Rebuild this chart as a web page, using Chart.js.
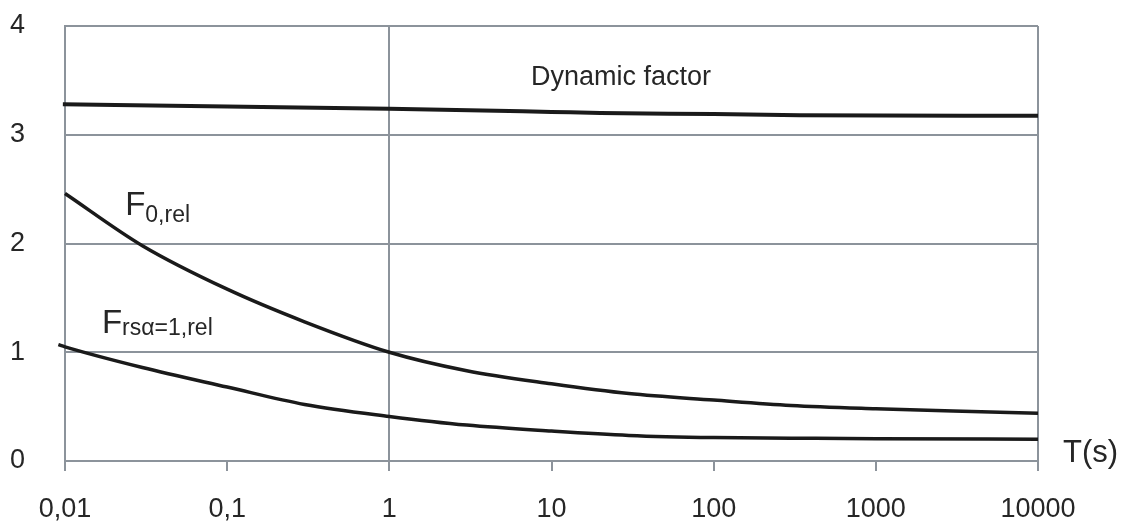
<!DOCTYPE html>
<html>
<head>
<meta charset="utf-8">
<script src="https://cdn.jsdelivr.net/npm/chart.js@4/dist/chart.umd.min.js"></script>
<style>
html,body{margin:0;padding:0;background:#fff;}
#wrap{width:1129px;height:522px;position:relative;}
</style>
</head>
<body>
<div id="wrap"><canvas id="c" width="1129" height="522"></canvas></div>
<script>
// ---- data ----
const xTicks = [0.01, 0.1, 1, 10, 100, 1000, 10000];
const xTickLabels = ["0,01", "0,1", "1", "10", "100", "1000", "10000"];
const yTicks = [0, 1, 2, 3, 4];

const dynT = [0.0097, 0.1, 1, 10, 20, 100, 340, 10000];
const dynV = [3.28, 3.26, 3.24, 3.21, 3.20, 3.19, 3.18, 3.175];

const f0T = [0.01, 0.03, 0.1, 0.3, 1, 3, 10, 30, 100, 300, 1000, 3000, 10000];
const f0V = [2.46, 1.98, 1.58, 1.28, 1.0, 0.83, 0.71, 0.62, 0.56, 0.51, 0.48, 0.46, 0.44];

const frsT = [0.0091, 0.01, 0.03, 0.1, 0.3, 1, 3, 10, 30, 100, 300, 1000, 10000];
const frsV = [1.07, 1.05, 0.86, 0.68, 0.52, 0.41, 0.33, 0.275, 0.235, 0.215, 0.21, 0.205, 0.20];

const FONT = "'Liberation Sans', Arial, sans-serif";
const GRID = '#8c939b';
const TXT = '#262626';

function pts(t, v) { return t.map((x, i) => ({x: x, y: v[i]})); }

const labelPlugin = {
  id: 'labels',
  afterDraw(chart) {
    const c = chart.ctx, xs = chart.scales.x, ys = chart.scales.y, a = chart.chartArea;
    c.save();
    c.fillStyle = TXT;
    c.textBaseline = 'alphabetic';
    // Dynamic factor
    c.font = '27px ' + FONT;
    c.textAlign = 'center';
    c.fillText('Dynamic factor', xs.getPixelForValue(26.8), ys.getPixelForValue(3.46));
    c.textAlign = 'left';
    // F0,rel
    let x = xs.getPixelForValue(0.0235), y = ys.getPixelForValue(2.26);
    c.font = '33px ' + FONT;
    c.fillText('F', x, y);
    let w = c.measureText('F').width;
    c.font = '23px ' + FONT;
    c.fillText('0,rel', x + w, y + 7);
    // Frsα=1,rel
    x = xs.getPixelForValue(0.0169); y = ys.getPixelForValue(1.18);
    c.font = '33px ' + FONT;
    c.fillText('F', x, y);
    w = c.measureText('F').width;
    c.font = '23px ' + FONT;
    c.fillText('rs\u03B1=1,rel', x + w, y + 2);
    // T(s)
    c.font = '31px ' + FONT;
    c.fillText('T(s)', a.right + 25, a.bottom + 1);
    c.restore();
  }
};

new Chart(document.getElementById('c'), {
  type: 'line',
  data: {
    datasets: [
      {label: 'Dynamic factor', data: pts(dynT, dynV), borderColor: '#1a1a1a', borderWidth: 4, pointRadius: 0, cubicInterpolationMode: 'monotone', clip: false},
      {label: 'F0,rel', data: pts(f0T, f0V), borderColor: '#1a1a1a', borderWidth: 3.5, pointRadius: 0, cubicInterpolationMode: 'monotone', clip: false},
      {label: 'Frs', data: pts(frsT, frsV), borderColor: '#1a1a1a', borderWidth: 3.5, pointRadius: 0, cubicInterpolationMode: 'monotone', clip: false}
    ]
  },
  options: {
    responsive: false,
    animation: false,
    layout: {padding: {top: 26, right: 91, left: 0, bottom: 0}},
    plugins: {legend: {display: false}, tooltip: {enabled: false}},
    scales: {
      x: {
        type: 'logarithmic',
        min: 0.01, max: 10000,
        afterBuildTicks(s) { s.ticks = xTicks.map(v => ({value: v})); },
        afterFit(s) { s.height = 61; },
        ticks: {
          autoSkip: false, maxRotation: 0, padding: 22,
          color: TXT, font: {family: FONT, size: 27},
          callback(v, i) { return xTickLabels[i]; }
        },
        grid: {
          color: ctx => (ctx.tick && (ctx.tick.value === 1 || ctx.tick.value === 10000)) ? GRID : 'rgba(0,0,0,0)',
          tickColor: GRID, tickLength: 10, lineWidth: 2, drawTicks: true
        },
        border: {display: true, color: GRID, width: 2}
      },
      y: {
        min: 0, max: 4,
        afterBuildTicks(s) { s.ticks = yTicks.map(v => ({value: v})); },
        afterFit(s) { s.width = 65; s.paddingTop = 0; s.paddingBottom = 0; },
        ticks: {padding: 40, color: TXT, font: {family: FONT, size: 27}},
        grid: {color: GRID, lineWidth: 2, drawTicks: false},
        border: {display: true, color: GRID, width: 2}
      }
    }
  },
  plugins: [labelPlugin]
});
</script>
</body>
</html>
